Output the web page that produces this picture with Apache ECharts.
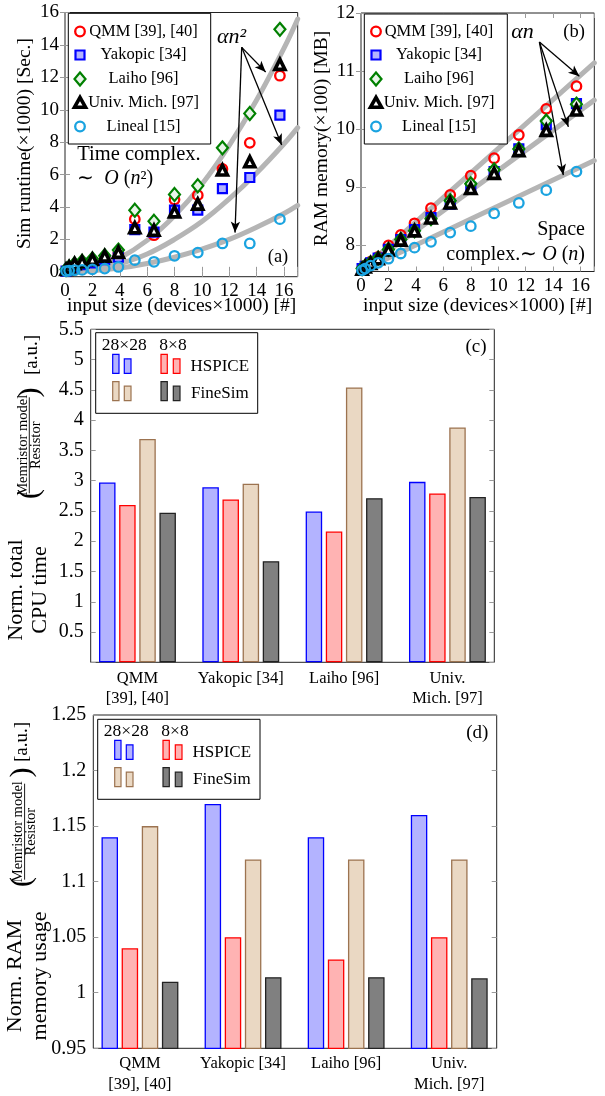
<!DOCTYPE html>
<html><head><meta charset="utf-8">
<script src="https://cdn.jsdelivr.net/npm/echarts@6/dist/echarts.min.js"></script>
<style>html,body{margin:0;padding:0;background:#fff}#c{width:605px;height:1096px}</style>
</head><body><div id="c"></div>
<script>
const FONT = '"Liberation Serif", "Times New Roman", serif';

// ---------- panels (a) and (b): input size (devices x1000) ----------
const sizes = [0.08, 0.3, 0.7, 1.25, 2.0, 2.9, 3.9, 5.1, 6.5, 8.0, 9.7, 11.5, 13.5, 15.7];
const runtimeQMM     = [0.1, 0.2, 0.35, 0.5, 0.65, 0.9, 1.15, 3.25, 2.26, 4.46, 4.73, 6.35, 7.96, 12.1];
const runtimeYakopic = [0.05, 0.15, 0.3, 0.45, 0.55, 0.75, 0.9, 2.61, 2.45, 3.81, 3.81, 5.14, 5.82, 9.67];
const runtimeLaiho   = [0.15, 0.3, 0.5, 0.65, 0.8, 1.0, 1.34, 3.8, 3.12, 4.77, 5.31, 7.65, 9.77, 14.96];
const runtimeUniv    = [0.15, 0.3, 0.5, 0.62, 0.77, 0.97, 1.2, 2.72, 2.57, 3.7, 4.18, 6.28, 6.79, 12.8];
const runtimeLineal  = [0.05, 0.08, 0.1, 0.12, 0.15, 0.2, 0.3, 0.72, 0.62, 0.99, 1.19, 1.75, 1.75, 3.25];

const ramQMM     = [7.6, 7.65, 7.72, 7.8, 8.0, 8.18, 8.38, 8.64, 8.87, 9.2, 9.5, 9.9, 10.35, 10.74];
const ramYakopic = [7.6, 7.64, 7.7, 7.78, 7.93, 8.1, 8.27, 8.48, 8.71, 9.0, 9.27, 9.66, 10.08, 10.44];
const ramLaiho   = [7.6, 7.64, 7.7, 7.78, 7.93, 8.1, 8.25, 8.46, 8.77, 9.06, 9.3, 9.66, 10.14, 10.43];
const ramUniv    = [7.59, 7.63, 7.69, 7.77, 7.92, 8.09, 8.25, 8.47, 8.73, 8.98, 9.24, 9.63, 9.98, 10.33];
const ramLineal  = [7.57, 7.6, 7.65, 7.7, 7.77, 7.86, 7.96, 8.06, 8.22, 8.33, 8.55, 8.73, 8.95, 9.27];

// grey fit curves
const curveX    = [0, 2, 4, 6, 8, 10, 12, 14, 16, 17];
const fitUpper  = [0, 0.22, 0.86, 1.94, 3.46, 5.4, 7.8, 10.6, 13.8, 15.6];
const fitMiddle = [0, 0.12, 0.5, 1.1, 2.0, 3.1, 4.5, 6.1, 7.9, 8.9];
const fitLower  = [0, 0.06, 0.23, 0.51, 0.9, 1.4, 2.0, 2.75, 3.6, 4.1];
const lineX        = [0, 17];
const ramFitUpper  = [7.56, 11.14];
const ramFitMiddle = [7.56, 10.5];
const ramFitLower  = [7.56, 9.46];

// ---------- panels (c) and (d) ----------
const models = ['QMM\n[39], [40]', 'Yakopic [34]', 'Laiho [96]', 'Univ.\nMich. [97]'];
const cpuHspice28  = [2.97, 2.89, 2.49, 2.98];
const cpuHspice8   = [2.60, 2.69, 2.16, 2.79];
const cpuFinesim28 = [3.69, 2.95, 4.54, 3.88];
const cpuFinesim8  = [2.47, 1.67, 2.71, 2.73];
const ramHspice28  = [1.14, 1.17, 1.14, 1.16];
const ramHspice8   = [1.04, 1.05, 1.03, 1.05];
const ramFinesim28 = [1.15, 1.12, 1.12, 1.12];
const ramFinesim8  = [1.01, 1.014, 1.014, 1.013];

const pairs = (xs, ys) => xs.map((x, i) => [x, ys[i]]);

const C = {
  red: '#ff0000', blue: '#0000ff', blueFill: '#b3b3ff', green: '#008000',
  cyan: '#1aa3e0', redFill: '#ffb3b3', tanFill: '#ead8c3', tan: '#9c7350',
  grayFill: '#808080', gray: '#333333', fit: '#b5b5b5', tick: '#9a9a9a'
};

const markerStyles = [
  { name: 'QMM [39], [40]', symbol: 'circle', size: 9.5, item: { color: 'rgba(0,0,0,0)', borderColor: C.red, borderWidth: 2.3, opacity: 1 } },
  { name: 'Yakopic [34]', symbol: 'rect', size: 9, item: { color: C.blueFill, borderColor: C.blue, borderWidth: 2.2, opacity: 1 } },
  { name: 'Laiho [96]', symbol: 'diamond', size: [11, 13], item: { color: '#e9f5e9', borderColor: C.green, borderWidth: 2.2, opacity: 1 } },
  { name: 'Univ. Mich. [97]', symbol: 'triangle', size: 10, item: { color: '#ffffff', borderColor: '#000', borderWidth: 3.6, opacity: 1 } },
  { name: 'Lineal [15]', symbol: 'circle', size: 9.5, item: { color: 'rgba(0,0,0,0)', borderColor: C.cyan, borderWidth: 2.3, opacity: 1 } }
];

function scatter(idx, xi, yi, data, extra) {
  const m = markerStyles[idx];
  return Object.assign({
    type: 'scatter', name: m.name, xAxisIndex: xi, yAxisIndex: yi,
    data, symbol: m.symbol, symbolSize: m.size, itemStyle: m.item,
    silent: true, z: 5 + idx
  }, extra || {});
}
function fitLine(xi, yi, data, smooth) {
  return { type: 'line', xAxisIndex: xi, yAxisIndex: yi, data, smooth: smooth,
    showSymbol: false, symbol: 'none', silent: true, z: 2,
    lineStyle: { color: C.fit, width: 5, cap: 'round' } };
}
function arrows(list) {
  return {
    silent: true, symbol: ['none', 'arrow'], symbolSize: [7, 11], animation: false,
    label: { show: false }, emphasis: { disabled: true },
    lineStyle: { color: '#000', width: 1.3, type: 'solid' },
    data: list.map(p => [{ coord: p[0] }, { coord: p[1] }])
  };
}
function bar(xi, yi, data, fill, stroke) {
  return { type: 'bar', xAxisIndex: xi, yAxisIndex: yi, data, barWidth: 16.5, barGap: '22%',
    silent: true, itemStyle: { color: fill, borderColor: stroke, borderWidth: 1.3 } };
}

const tickStyle = { inside: true, length: 5, lineStyle: { color: C.tick, width: 1 } };
const evenFmt = v => (Math.abs(v / 2 - Math.round(v / 2)) < 1e-6 ? String(Math.round(v)) : '');
const intFmt = v => (Math.abs(v - Math.round(v)) < 1e-6 ? String(Math.round(v)) : '');

function valX(grid, min, max, pos, labels) {
  return { gridIndex: grid, type: 'value', min, max, interval: 2, position: pos,
    axisLine: { show: false }, splitLine: { show: false }, axisTick: tickStyle,
    axisLabel: labels ? { show: true, fontSize: 19, fontFamily: FONT, color: '#000', margin: 5, formatter: evenFmt } : { show: false } };
}
function valY(grid, min, max, split, pos, labels) {
  return { gridIndex: grid, type: 'value', min, max, splitNumber: split, position: pos,
    axisLine: { show: false }, splitLine: { show: false }, axisTick: tickStyle,
    axisLabel: labels ? { show: true, fontSize: 19, fontFamily: FONT, color: '#000', margin: 6, formatter: intFmt } : { show: false } };
}
function catX(grid, pos, labels, lh, margin) {
  return { gridIndex: grid, type: 'category', data: models, position: pos,
    axisLine: { show: false }, splitLine: { show: false },
    axisTick: { inside: true, alignWithLabel: true, length: 6, lineStyle: { color: C.tick } },
    axisLabel: labels ? { show: true, interval: 0, fontSize: 16.5, lineHeight: lh, fontFamily: FONT, color: '#000', margin } : { show: false } };
}
function barY(grid, min, max, interval, pos, labels, fmt) {
  return { gridIndex: grid, type: 'value', min, max, interval, position: pos,
    axisLine: { show: false }, splitLine: { show: false }, axisTick: tickStyle,
    axisLabel: labels ? { show: true, fontSize: 20, fontFamily: FONT, color: '#000', margin: 7, formatter: fmt } : { show: false } };
}

// ---------- graphic helpers (legends & annotation text) ----------
function txt(x, y, text, size, o) {
  o = o || {};
  return { type: 'text', x, y, rotation: o.rot || 0, z: 100, silent: true,
    style: { text, fontSize: size, fontFamily: FONT, fontStyle: o.italic ? 'italic' : 'normal',
      fill: '#000', align: o.align || 'center', verticalAlign: 'middle',
      textAlign: o.align || 'center', textVerticalAlign: 'middle', lineHeight: o.lh, rich: o.rich } };
}
function box(x1, y1, x2, y2) {
  return { type: 'rect', z: 99, silent: true, shape: { x: x1, y: y1, width: x2 - x1, height: y2 - y1 },
    style: { fill: '#fff', stroke: '#000', lineWidth: 1 } };
}
function ring(cx, cy, r, color) {
  return { type: 'circle', z: 101, silent: true, shape: { cx, cy, r }, style: { fill: 'none', stroke: color, lineWidth: 2.3 } };
}
function sq(cx, cy, s) {
  return { type: 'rect', z: 101, silent: true, shape: { x: cx - s / 2, y: cy - s / 2, width: s, height: s },
    style: { fill: C.blueFill, stroke: C.blue, lineWidth: 2.2 } };
}
function dia(cx, cy, w, h) {
  return { type: 'polygon', z: 101, silent: true, shape: { points: [[cx, cy - h / 2], [cx + w / 2, cy], [cx, cy + h / 2], [cx - w / 2, cy]] },
    style: { fill: '#e9f5e9', stroke: C.green, lineWidth: 2.2 } };
}
function tri(cx, cy, s) {
  return { type: 'polygon', z: 101, silent: true, shape: { points: [[cx, cy - s * 0.55], [cx + s * 0.55, cy + s * 0.42], [cx - s * 0.55, cy + s * 0.42]] },
    style: { fill: '#fff', stroke: '#000', lineWidth: 3.6, lineJoin: 'miter' } };
}
function swatch(x1, x2, y1, y2, fill, stroke) {
  return { type: 'rect', z: 101, silent: true, shape: { x: x1, y: y1, width: x2 - x1, height: y2 - y1 },
    style: { fill, stroke, lineWidth: 1.2 } };
}
function line(x1, y1, x2, y2, w) {
  return { type: 'line', z: 100, silent: true, shape: { x1, y1, x2, y2 }, style: { stroke: '#000', lineWidth: w || 1 } };
}

function markerLegend(x1, y1, x2, y2, mx, tx) {
  const rows = [31.5, 55, 79, 103, 126.5];
  const out = [box(x1, y1, x2, y2)];
  out.push(ring(mx, rows[0], 4.8, C.red));
  out.push(sq(mx, rows[1], 9));
  out.push(dia(mx, rows[2], 11, 13));
  out.push(tri(mx, rows[3], 10));
  out.push(ring(mx, rows[4], 4.8, C.cyan));
  markerStyles.forEach((m, i) => out.push(txt(tx, rows[i], m.name, 16.5)));
  return out;
}
function barLegend(x1, y1, x2, y2, headY, row1, row2) {
  const out = [box(x1, y1, x2, y2)];
  const ox = x1 - 95.7;
  out.push(txt(124.2 + ox, headY, '28×28', 17.5));
  out.push(txt(173 + ox, headY, '8×8', 17.5));
  const rowsDef = [[row1, C.blueFill, C.blue, C.redFill, C.red, 'HSPICE'], [row2, C.tanFill, C.tan, C.grayFill, '#222', 'FineSim']];
  rowsDef.forEach(r => {
    const yb = r[0];
    out.push(swatch(112.7 + ox, 119 + ox, yb - 19, yb, r[1], r[2]));
    out.push(swatch(124.3 + ox, 131 + ox, yb - 14.5, yb, r[1], r[2]));
    out.push(swatch(161 + ox, 167.3 + ox, yb - 19, yb, r[3], r[4]));
    out.push(swatch(173.3 + ox, 180 + ox, yb - 14.5, yb, r[3], r[4]));
    out.push(txt(219.8 + ox, yb - 7, r[5], 17));
  });
  return out;
}
function fracTitle(cy, x0, num, den, bar1, bar2, po, pc, auy, aux, px) {
  // rotated stack: "( Memristor model / Resistor ) [a.u.]"
  const R = Math.PI / 2;
  return [
    txt(x0, cy, num, 14.5, { rot: R }),
    line(x0 + 6.3, bar1, x0 + 6.3, bar2, 0.9),
    txt(x0 + 13, cy, den, 14.5, { rot: R }),
    txt(px, po, '(', 30, { rot: R }),
    txt(px, pc, ')', 30, { rot: R }),
    txt(aux, auy, '[a.u.]', 19, { rot: R })
  ];
}

const R90 = Math.PI / 2;
const richMath = { r: { fontSize: 20, fontFamily: FONT }, i: { fontSize: 20, fontFamily: FONT, fontStyle: 'italic' } };
const graphics = [].concat(
  markerLegend(68.3, 13.3, 210.7, 144, 80, 143.5),
  markerLegend(364.3, 14, 507.3, 144, 376, 439),
  barLegend(95.7, 332.7, 257.7, 413.3, 345, 373.3, 400.7),
  barLegend(97.7, 719.3, 260, 799.3, 731, 759.3, 786.7),
  [
    // panel (a) annotations
    txt(25, 143.5, 'Sim runtime(×1000) [Sec.]', 19.5, { rot: R90 }),
    txt(181.7, 306, 'input size (devices×1000) [#]', 19.5),
    txt(231.5, 37, 'αn²', 22, { italic: true }),
    txt(77.3, 155, 'Time complex.', 20.5, { align: 'left' }),
    txt(77.3, 179, '{r|∼  }{i|O}{r| (}{i|n}{r|²)}', 20, { align: 'left', rich: richMath }),
    txt(278, 256.7, '(a)', 18.5),
    // panel (b) annotations
    txt(321.7, 138.5, 'RAM memory(×100) [MB]', 19.5, { rot: R90 }),
    txt(477.7, 306, 'input size (devices×1000) [#]', 19.5),
    txt(522.5, 32, 'αn', 22, { italic: true }),
    txt(574, 32, '(b)', 18.5),
    txt(585, 230, 'Space', 20, { align: 'right' }),
    txt(585, 255, '{r|complex.∼ }{i|O}{r| (}{i|n}{r|)}', 20, { align: 'right', rich: richMath }),
    // panel (c)
    txt(476, 346.7, '(c)', 19),
    txt(28.7, 590, 'Norm. total\nCPU time', 22, { rot: R90, lh: 24 }),
    // panel (d)
    txt(477.3, 732.7, '(d)', 19),
    txt(27.8, 976, 'Norm. RAM\nmemory usage', 22, { rot: R90, lh: 25.7 })
  ],
  fracTitle(445.3, 23, 'Memristor model', 'Resistor', 397.3, 493.3, 494, 392.5, 355, 31.7, 30),
  fracTitle(831.7, 18.3, 'Memristor model', 'Resistor', 783.7, 879.7, 882, 772.5, 742, 22.5, 21.7)
);

const option = {
  animation: false,
  backgroundColor: '#fff',
  textStyle: { fontFamily: FONT },
  grid: [
    { left: 65, top: 12.5, width: 232.7, height: 264.2, show: true, borderColor: '#222', borderWidth: 1, backgroundColor: 'transparent' },
    { left: 361, top: 13, width: 233.3, height: 258.5, show: true, borderColor: '#222', borderWidth: 1, backgroundColor: 'transparent' },
    { left: 90.7, top: 329.3, width: 403.6, height: 333, show: true, borderColor: '#222', borderWidth: 1, backgroundColor: 'transparent' },
    { left: 85.8, top: 329.3, width: 413.3, height: 333 },
    { left: 93.3, top: 715, width: 403.4, height: 333.3, show: true, borderColor: '#222', borderWidth: 1, backgroundColor: 'transparent' },
    { left: 88.4, top: 715, width: 412.4, height: 333.3 }
  ],
  xAxis: [
    valX(0, 0, 17, 'bottom', true), valX(0, 0, 17, 'top', false),
    valX(1, 0, 17, 'bottom', true), valX(1, 0, 17, 'top', false),
    { gridIndex: 2, type: 'value', min: 0, max: 1, show: false },
    catX(3, 'bottom', true, 20, 6), catX(3, 'top', false),
    { gridIndex: 4, type: 'value', min: 0, max: 1, show: false },
    catX(5, 'bottom', true, 21, 5), catX(5, 'top', false)
  ],
  yAxis: [
    valY(0, -0.3, 16, 8, 'left', true), valY(0, -0.3, 16, 8, 'right', false),
    valY(1, 7.55, 12, 4, 'left', true), valY(1, 7.55, 12, 4, 'right', false),
    barY(2, 0, 5.5, 0.5, 'left', true, v => (v === 0 ? '' : String(v))), barY(2, 0, 5.5, 0.5, 'right', false),
    { gridIndex: 3, type: 'value', min: 0, max: 5.5, show: false },
    barY(4, 0.95, 1.25, 0.05, 'left', true, v => String(Math.round(v * 100) / 100)), barY(4, 0.95, 1.25, 0.05, 'right', false),
    { gridIndex: 5, type: 'value', min: 0.95, max: 1.25, show: false }
  ],
  series: [
    fitLine(0, 0, pairs(curveX, fitUpper), 0.4),
    fitLine(0, 0, pairs(curveX, fitMiddle), 0.4),
    fitLine(0, 0, pairs(curveX, fitLower), 0.4),
    scatter(0, 0, 0, pairs(sizes, runtimeQMM)),
    scatter(1, 0, 0, pairs(sizes, runtimeYakopic)),
    scatter(2, 0, 0, pairs(sizes, runtimeLaiho)),
    scatter(3, 0, 0, pairs(sizes, runtimeUniv)),
    scatter(4, 0, 0, pairs(sizes, runtimeLineal), {
      markLine: arrows([[[12.91, 13.85], [14.66, 12.33]], [[12.91, 13.85], [15.83, 7.83]], [[12.91, 13.85], [12.42, 2.42]]])
    }),

    fitLine(2, 2, pairs(lineX, ramFitUpper), false),
    fitLine(2, 2, pairs(lineX, ramFitMiddle), false),
    fitLine(2, 2, pairs(lineX, ramFitLower), false),
    scatter(0, 2, 2, pairs(sizes, ramQMM)),
    scatter(1, 2, 2, pairs(sizes, ramYakopic)),
    scatter(2, 2, 2, pairs(sizes, ramLaiho)),
    scatter(3, 2, 2, pairs(sizes, ramUniv)),
    scatter(4, 2, 2, pairs(sizes, ramLineal), {
      markLine: arrows([[[13.0, 11.5], [15.91, 10.91]], [[13.0, 11.5], [15.11, 10.04]], [[13.0, 11.5], [14.74, 9.21]]])
    }),

    bar(5, 6, cpuHspice28, C.blueFill, C.blue),
    bar(5, 6, cpuHspice8, C.redFill, C.red),
    bar(5, 6, cpuFinesim28, C.tanFill, C.tan),
    bar(5, 6, cpuFinesim8, C.grayFill, '#222'),

    bar(8, 9, ramHspice28, C.blueFill, C.blue),
    bar(8, 9, ramHspice8, C.redFill, C.red),
    bar(8, 9, ramFinesim28, C.tanFill, C.tan),
    bar(8, 9, ramFinesim8, C.grayFill, '#222')
  ],
  graphic: { elements: graphics }
};

const chart = echarts.init(document.getElementById('c'), null, { renderer: 'canvas' });
chart.setOption(option);
</script>
</body></html>
